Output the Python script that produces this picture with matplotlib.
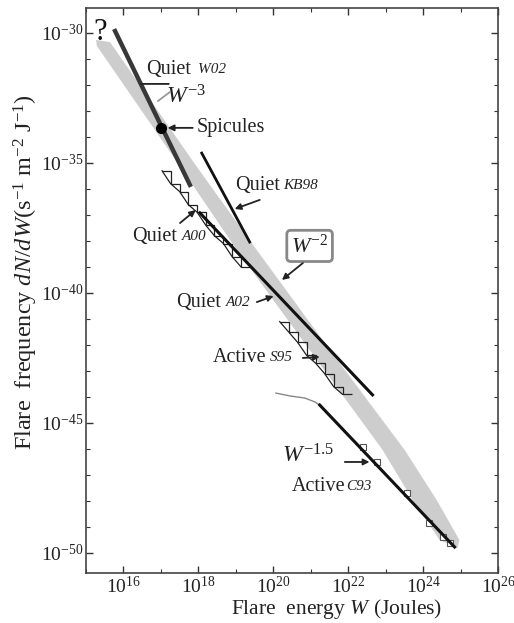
import numpy as np
import matplotlib
matplotlib.use('Agg')
import matplotlib.pyplot as plt
from matplotlib.ticker import FixedLocator, FuncFormatter, NullFormatter

plt.rcParams['font.family'] = ['Liberation Serif', 'DejaVu Serif']
plt.rcParams['mathtext.fontset'] = 'custom'
plt.rcParams['mathtext.rm'] = 'Liberation Serif'
plt.rcParams['mathtext.it'] = 'Liberation Serif:italic'

# all values are log10 (energy in J, frequency in s-1 m-2 J-1)
band_logw = [15.27, 15.64, 17.96, 19.56, 21.51, 23.51, 24.36, 24.97,
             24.92, 24.44, 23.72, 22.92, 20.97, 19.03, 17.52, 15.29]
band_logf = [-30.27, -30.35, -35.15, -38.35, -42.19, -46.04, -47.96, -49.50,
             -49.81, -49.50, -47.96, -46.04, -42.19, -38.35, -35.15, -30.50]

w02_logw = [15.75, 17.80]
w02_logf = [-29.85, -35.92]
kb98_logw = [18.09, 19.37]
kb98_logf = [-34.62, -38.04]
a02_logw = [18.04, 22.65]
a02_logf = [-36.92, -43.92]
c93_logw = [21.24, 24.84]
c93_logf = [-44.31, -49.77]
c93_low_logw = [20.07, 20.44, 20.84, 21.11, 21.24]
c93_low_logf = [-43.85, -43.96, -44.04, -44.19, -44.31]
c93_pts_logw = [22.39, 22.76, 23.56, 24.17, 24.52, 24.71]
c93_pts_logf = [-45.92, -46.50, -47.69, -48.85, -49.38, -49.62]

spicule_logw = [17.0]
spicule_logf = [-33.65]

a00_edges = [17.03, 17.26, 17.50, 17.73, 17.97, 18.20, 18.43, 18.67, 18.90, 19.14, 19.37]
a00_logf = [-35.3, -35.8, -36.1, -36.6, -36.9, -37.4, -37.8, -38.1, -38.6, -39.0]
s95_edges = [20.17, 20.41, 20.65, 20.89, 21.13, 21.37, 21.61, 21.85, 22.09]
s95_logf = [-41.1, -41.5, -41.9, -42.4, -42.7, -43.1, -43.6, -43.9]

xmajor = [16, 18, 20, 22, 24, 26]
xminor = [15, 17, 19, 21, 23, 25]
ymajor = [-30, -35, -40, -45, -50]
yminor = [-29, -31, -32, -33, -34, -36, -37, -38, -39, -41, -42, -43, -44,
          -46, -47, -48, -49]


def p(v):
    return 10.0 ** np.asarray(v, dtype=float)


fig = plt.figure(figsize=(5.14, 6.23), dpi=100)
ax = fig.add_axes([86 / 514, 1 - 573 / 623, 412 / 514, 565 / 623])
ax.set_xscale('log')
ax.set_yscale('log')

ax.fill(p(band_logw), p(band_logf), color='#cdcdcd', lw=0, zorder=1)

for edges, vals in [(a00_edges, a00_logf), (s95_edges, s95_logf)]:
    ax.stairs(p(vals), p(edges), baseline=None, color='#222222', lw=0.9, zorder=2)
    ax.plot(p(edges[:-1]), p(vals), color='#222222', lw=0.9, zorder=2)

ax.plot(p(c93_low_logw), p(c93_low_logf), color='#888888', lw=1.0, zorder=2)
ax.plot(p(c93_pts_logw), p(c93_pts_logf), ls='none', marker='s', ms=4,
        mfc='white', mec='#555555', mew=0.8, zorder=2)

ax.plot(p(w02_logw), p(w02_logf), color='#383838', lw=3.2, solid_capstyle='butt', zorder=3)
ax.plot(p(kb98_logw), p(kb98_logf), color='#111111', lw=2.0, zorder=3)
ax.plot(p(a02_logw), p(a02_logf), color='#111111', lw=2.2, zorder=3)
ax.plot(p(c93_logw), p(c93_logf), color='#111111', lw=2.2, zorder=3)
ax.plot(p(spicule_logw), p(spicule_logf), 'o', color='black', ms=7, zorder=4)

ax.set_xlim(1e15, 1e26)
ax.set_ylim(10 ** -50.77, 10 ** -29.04)

fmt = FuncFormatter(lambda v, pos: r'$10^{%d}$' % int(round(np.log10(v))))
ax.xaxis.set_major_locator(FixedLocator(p(xmajor)))
ax.xaxis.set_minor_locator(FixedLocator(p(xminor)))
ax.yaxis.set_major_locator(FixedLocator(p(ymajor)))
ax.yaxis.set_minor_locator(FixedLocator(p(yminor)))
ax.xaxis.set_major_formatter(fmt)
ax.yaxis.set_major_formatter(fmt)
ax.xaxis.set_minor_formatter(NullFormatter())
ax.yaxis.set_minor_formatter(NullFormatter())
ax.tick_params(which='both', direction='in', top=True, right=True,
               colors='#333333', labelcolor='#222222', labelsize=14)
ax.tick_params(which='major', length=5, width=1)
ax.tick_params(which='minor', length=3, width=0.8)
ax.tick_params(axis='y', pad=2)
ax.tick_params(axis='x', pad=2)
for s in ax.spines.values():
    s.set_color('#444444')
    s.set_linewidth(1.2)

tc = '#222222'
big = 14.5
small = 11


def lab(main, cat, lw_main, lw_cat, lf):
    ax.text(p(lw_main), p(lf), main, fontsize=big, color=tc, va='center', ha='left')
    ax.text(p(lw_cat), p(lf), cat, fontsize=small, style='italic', color=tc,
            va='center', ha='left')


def arrow(w0, f0, w1, f1, head=True, color='#222222'):
    ax.annotate('', xy=(p(w1), p(f1)), xytext=(p(w0), p(f0)),
                arrowprops=dict(arrowstyle='-|>' if head else '-', color=color,
                                lw=1.3, mutation_scale=9, shrinkA=0, shrinkB=0))


ax.text(p(15.37), p(-30.0), '?', fontsize=22, color='#111111', ha='center', va='center')

lab('Quiet', 'W02', 16.60, 17.98, -31.42)
arrow(17.21, -31.96, 16.47, -31.96, head=False)
ax.text(p(17.13), p(-32.46), r'$W^{-3}$', fontsize=17, color=tc, va='center', ha='left')
arrow(16.92, -32.62, 17.24, -32.27, head=False, color='#999999')

ax.text(p(17.96), p(-33.65), 'Spicules', fontsize=big, color=tc, va='center', ha='left')
arrow(17.85, -33.65, 17.18, -33.65)

lab('Quiet', 'KB98', 18.97, 20.27, -35.85)
arrow(19.64, -36.42, 18.97, -36.77)

lab('Quiet', 'A00', 16.23, 17.55, -37.81)
arrow(17.51, -37.31, 17.93, -36.81)

ax.text(p(20.97), p(-38.19), r'$W^{-2}$', fontsize=16, color=tc, va='center', ha='center',
        bbox=dict(boxstyle='round,pad=0.18', fc='white', ec='#888888', lw=2))
arrow(20.79, -38.85, 20.23, -39.50)

lab('Quiet', 'A02', 17.40, 18.72, -40.35)
arrow(19.56, -40.35, 20.01, -40.12)

lab('Active', 'S95', 18.39, 19.90, -42.50)
arrow(20.79, -42.50, 21.24, -42.46)

ax.text(p(20.23), p(-46.25), r'$W^{-1.5}$', fontsize=17, color=tc, va='center', ha='left')
arrow(21.91, -46.50, 22.57, -46.50)

lab('Active', 'C93', 20.49, 21.95, -47.46)

fig.text(337 / 514, 1 - 609 / 623, r'Flare  energy $W$ (Joules)', fontsize=15.5,
         color=tc, ha='center', va='center')
fig.text(26 / 514, 1 - 272 / 623,
         r'Flare  frequency $dN/dW$(s$^{-1}$ m$^{-2}$ J$^{-1}$)', fontsize=17.5,
         color=tc, ha='center', va='center', rotation=90)

fig.savefig('out.png', dpi=100)
